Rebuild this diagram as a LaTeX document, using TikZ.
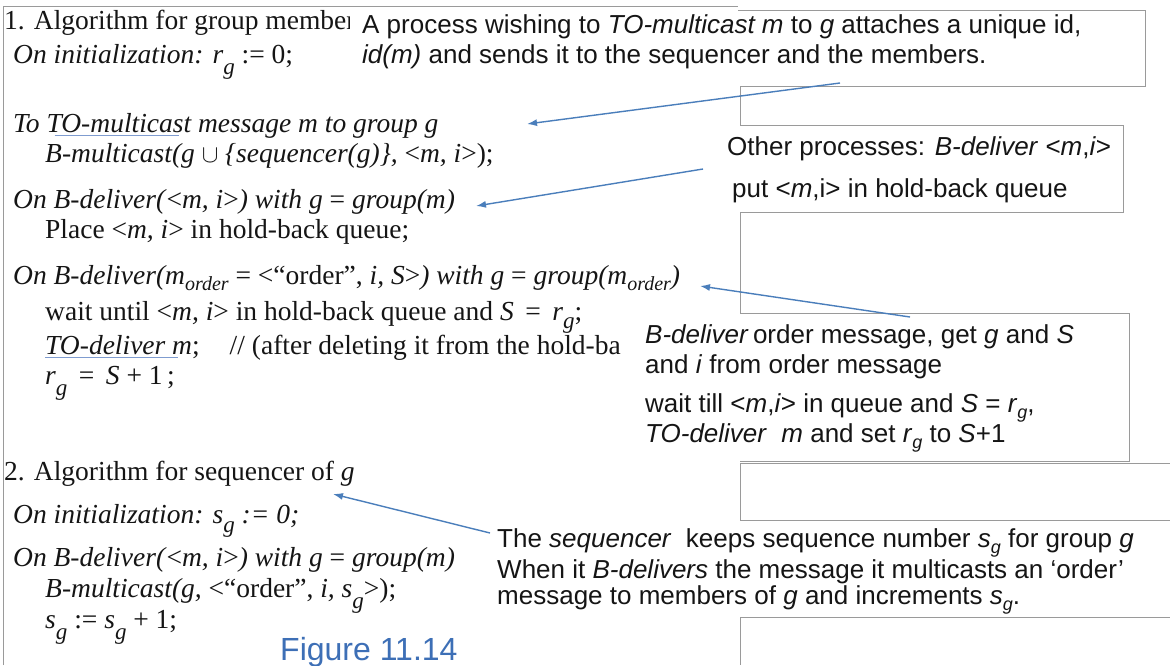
\documentclass[tikz,border=0pt]{standalone}
\usepackage{fontspec}
\setmainfont{Liberation Serif}
\setsansfont{Liberation Sans}
\usetikzlibrary{arrows.meta}
\definecolor{arrowblue}{HTML}{4A7EBB}
\definecolor{ulblue}{HTML}{7F9CD0}
\definecolor{boxgray}{HTML}{9A9A9A}
\definecolor{ink}{HTML}{151515}
\definecolor{figblue}{HTML}{3D6FB6}
% dropped subscript used in the pseudo-code (r_g, s_g)
\newcommand\dropg[2][11pt]{\raisebox{-#1}{\fontsize{23}{23}\selectfont\textit{#2}}}
% smaller, slightly lowered subscript (m_order)
\newcommand\ordsub[1]{\raisebox{-6pt}{\fontsize{20}{20}\selectfont\textit{#1}}}
% subscript in the sans notes
\newcommand\nsub[1]{\raisebox{-6pt}{\fontsize{18}{18}\selectfont\textit{#1}}}
% light blue underline: #1 left trim, #2 right trim, #3 text
\newcommand\bul[3]{\setbox0\hbox{#3}\rlap{\hspace{#1}\textcolor{ulblue}{\rule[-4pt]{\dimexpr\wd0-#1-#2\relax}{1.3pt}}}\box0\relax}
\begin{document}
\begin{tikzpicture}[x=1pt,y=-1pt,
  code/.style={anchor=base west,inner sep=0pt,text=ink,font=\fontsize{27.5}{30}\selectfont},
  note/.style={anchor=base west,inner sep=0pt,text=ink,font=\fontsize{26}{30}\selectfont\sffamily},
  frame/.style={draw=boxgray,line width=1pt},
  pointer/.style={draw=arrowblue,line width=1.4pt,-{Latex[length=10pt,width=7pt]}}]
\useasboundingbox (0,0) rectangle (1170,665);
\fill[white] (0,0) rectangle (1170,665);

% ---- algorithm for group members
\node[code] (c1) at (4,29) {1. Algorithm for group members};
\node[code] (c2) at (13,63) {\textit{On initialization: r}\dropg{g} := 0;};
\node[code] (c3) at (13,132) {\textit{To \bul{8pt}{12pt}{TO-multicast} message m to group g}};
\node[code] (c4) at (45,162) {\textit{B-multicast(g} $\cup$ \textit{\{sequencer(g)\},} <\textit{m, i}>);};
\node[code] (c5) at (13,208) {\textit{On B-deliver(}<\textit{m, i}>\textit{) with g} = \textit{group(m)}};
\node[code] (c6) at (45,238) {Place <\textit{m, i}> in hold-back queue;};
\node[code] (c7) at (13,284) {\textit{On B-deliver(m\ordsub{order}} = <“order”, \textit{i, S}>\textit{) with g} = \textit{group(m\ordsub{order})}};
\node[code] (c8) at (45,320) {wait until <\textit{m, i}> in hold-back queue and \textit{S}\, =\, \textit{r}\dropg[8pt]{g};};
\node[code] (c9) at (45,354) {\bul{0pt}{14pt}{\textit{TO-deliver m}};\hspace*{30pt}// (after deleting it from the hold-ba};
\node[code] (c10) at (45,384) {\textit{r}\dropg{g}\, =\, \textit{S} + 1\,;};

% ---- algorithm for the sequencer
\node[code] (c11) at (4,480) {2. Algorithm for sequencer of \textit{g}};
\node[code] (c12) at (13,523) {\textit{On initialization: s}\dropg[9pt]{g} \textit{:= 0;}};
\node[code] (c13) at (13,566) {\textit{On B-deliver(}<\textit{m, i}>\textit{) with g} = \textit{group(m)}};
\node[code] (c14) at (45,597) {\textit{B-multicast(g,} <“order”, \textit{i, s}\dropg{g}>);};
\node[code] (c15) at (45,628) {\textit{s}\dropg{g} := \textit{s}\dropg{g} + 1;};
\node[anchor=base west,inner sep=0pt,text=figblue,font=\fontsize{32}{34}\selectfont\sffamily] (fig) at (280,660) {Figure 11.14};

% ---- white text areas laid over the code
\fill[white] (350,9) rectangle (1140,80);
\fill[white] (638,316) rectangle (1126,458);

% ---- outlines of the note boxes
\draw[frame] (3,665) -- (3,6) -- (738,6);
\draw[frame] (738,10) -- (1145,10) -- (1145,86) -- (740,86) -- (740,125);
\draw[frame] (740,125) -- (1123,125) -- (1123,212) -- (740,212);
\draw[frame] (740,212) -- (740,313) -- (1129,313) -- (1129,461) -- (740,461);
\draw[frame] (1170,463) -- (740,463) -- (740,520) -- (1170,520);
\draw[frame] (1170,617) -- (740,617) -- (740,665);

% ---- notes
\node[note] (nA1) at (362,33) {A process wishing to \textit{TO-multicast m} to \textit{g} attaches a unique id,};
\node[note] (nA2) at (362,63) {\textit{id(m)} and sends it to the sequencer and the members.};
\node[note] (nB1) at (727,155) {Other processes: \textit{B-deliver} <\textit{m},\textit{i}>};
\node[note] (nB2) at (732,197) {put <\textit{m},i> in hold-back queue};
\node[note] (nD1) at (645,343) {\textit{B-deliver}\,order message, get \textit{g} and \textit{S}};
\node[note] (nD2) at (645,373) {and \textit{i} from order message};
\node[note] (nD3) at (645,412) {wait till <\textit{m},\textit{i}> in queue and \textit{S} = \textit{r}\nsub{g},};
\node[note] (nD4) at (645,442) {\textit{TO-deliver}\ \ \textit{m} and set \textit{r}\nsub{g} to \textit{S}+1};
\node[note] (nE1) at (497,547) {The \textit{sequencer}\ \ keeps sequence number \textit{s}\nsub{g} for group \textit{g}};
\node[note] (nE2) at (497,578) {When it \textit{B-delivers} the message it multicasts an ‘order’};
\node[note] (nE3) at (497,604) {message to members of \textit{g} and increments \textit{s}\nsub{g}.};

% ---- pointers from the notes to the code
\coordinate (p1) at (840,83);   \coordinate (t1) at (527,124);
\coordinate (p2) at (703,169);  \coordinate (t2) at (476,206);
\coordinate (p3) at (910,317);  \coordinate (t3) at (700,286);
\coordinate (p4) at (490,533);  \coordinate (t4) at (333,494);
\draw[pointer] (p1) -- (t1);
\draw[pointer] (p2) -- (t2);
\draw[pointer] (p3) -- (t3);
\draw[pointer] (p4) -- (t4);
\end{tikzpicture}
\end{document}
